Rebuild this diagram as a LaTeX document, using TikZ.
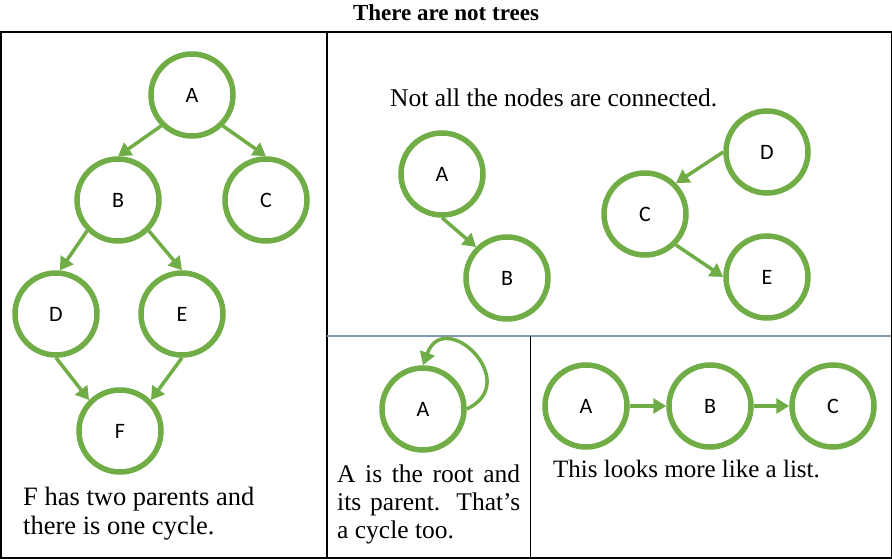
\documentclass[tikz,border=0pt]{standalone}
\usepackage{fontspec}
\setmainfont{Liberation Serif}
\newfontfamily\labelfont{Carlito}
\usetikzlibrary{arrows.meta}
\definecolor{leafgreen}{HTML}{70AD47}
\definecolor{slategray}{HTML}{8497B0}
\begin{document}
\begin{tikzpicture}[x=1pt,y=1pt,
  vertex/.style={circle,draw=leafgreen,line width=5.5pt,minimum size=82pt,inner sep=0pt,
    font=\labelfont\fontsize{22}{26}\selectfont},
  link/.style={leafgreen,line width=3.5pt,-{Triangle[length=13pt,width=15pt]}},
  note/.style={anchor=base west,inner sep=0pt,font=\fontsize{25.5}{29}\selectfont}]
  \useasboundingbox (0,0) rectangle (892,-559);
  \draw[line width=1.5pt] (0.75,-32) rectangle (891.25,-558);
  \draw[line width=1.5pt] (327,-32) -- (327,-558);
  \draw[slategray,line width=2pt] (327,-336) -- (891.25,-336);
  \draw[line width=1.5pt] (530.5,-336) -- (530.5,-558);
  \node[anchor=base,inner sep=0pt,font=\bfseries\fontsize{23}{27}\selectfont] (title) at (446,-21) {There are not trees};
  \node[vertex] (lA) at (192,-95) {A};
  \node[vertex] (lB) at (118,-200) {B};
  \node[vertex] (lC) at (266,-200) {C};
  \node[vertex] (lD) at (56,-314) {D};
  \node[vertex] (lE) at (182,-314) {E};
  \node[vertex] (lF) at (120,-431) {F};
  \draw[link] (lA.-135) -- (lB.north);
  \draw[link] (lA.-45) -- (lC.north);
  \draw[link] (lB.-135) -- (lD.85);
  \draw[link] (lB.-45) -- (lE.north);
  \draw[link] (lD.south) -- (lF.135);
  \draw[link] (lE.south) -- (lF.45);
  \node[note,font=\fontsize{26.5}{29}\selectfont] (leftnote1) at (23,-505) {F has two parents and};
  \node[note,font=\fontsize{26.5}{29}\selectfont] (leftnote2) at (23,-534) {there is one cycle.};
  \node[note] (topnote) at (390,-107) {Not all the nodes are connected.};
  \node[vertex] (tA) at (442,-174) {A};
  \node[vertex] (tB) at (507,-278) {B};
  \node[vertex] (tC) at (645,-214) {C};
  \node[vertex] (tD) at (767,-152) {D};
  \node[vertex] (tE) at (767,-277) {E};
  \draw[link] (tA.south) -- (tB.135);
  \draw[link] (tD.west) -- (tC.45);
  \draw[link] (tC.-45) -- (tE.west);
  \node[vertex] (bA) at (423,-409) {A};
  \draw[link] (bA.east) to[out=25,in=70,looseness=2.6] (bA.north);
  \node[note] (midnote1) at (337,-482) {\makebox[183pt][s]{A is the root and}};
  \node[note] (midnote2) at (337,-510) {\makebox[183pt][s]{its parent. That’s}};
  \node[note] (midnote3) at (337,-538) {a cycle too.};
  \node[vertex] (rA) at (586,-406) {A};
  \node[vertex] (rB) at (710,-406) {B};
  \node[vertex] (rC) at (833,-406) {C};
  \draw[link] (rA) -- (rB);
  \draw[link] (rB) -- (rC);
  \node[note,font=\fontsize{25}{29}\selectfont] (rightnote) at (553,-477) {This looks more like a list.};
\end{tikzpicture}
\end{document}
